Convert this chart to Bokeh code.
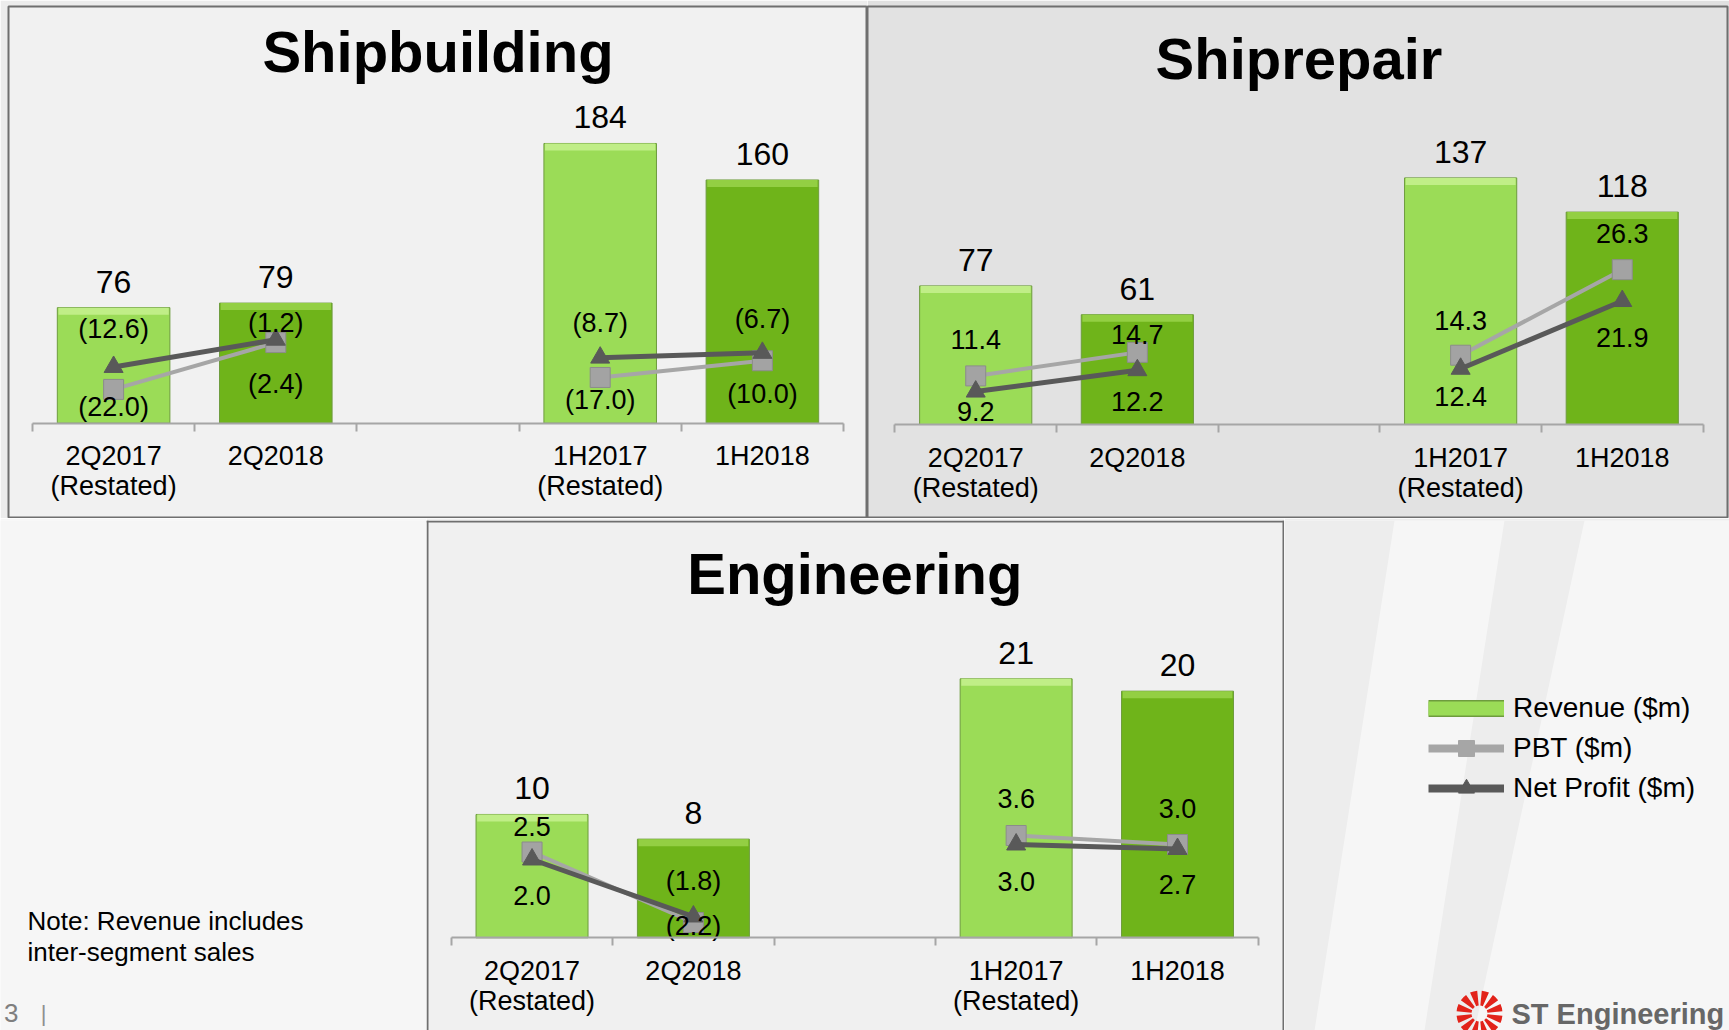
import math
from bokeh.plotting import figure
from bokeh.layouts import row, column
from bokeh.models import (Range1d, FixedTicker, ColumnDataSource, Label, Legend,
                          LegendItem, Span)
from bokeh.core.properties import value
from bokeh.embed import file_html
from bokeh.resources import INLINE

# ---------------- data ----------------
categories = ["2Q2017\n(Restated)", "2Q2018", "1H2017\n(Restated)", "1H2018"]
cat_pos = [0, 1, 3, 4]

sb_revenue = [76, 79, 184, 160]
sb_pbt = [-22.0, -2.4, -17.0, -10.0]
sb_np = [-12.6, -1.2, -8.7, -6.7]

sr_revenue = [77, 61, 137, 118]
sr_pbt = [11.4, 14.7, 14.3, 26.3]
sr_np = [9.2, 12.2, 12.4, 21.9]

en_revenue = [10, 8, 21, 20]
en_pbt = [2.5, -2.2, 3.6, 3.0]
en_np = [2.0, -1.8, 3.0, 2.7]

legend_labels = ["Revenue ($m)", "PBT ($m)", "Net Profit ($m)"]
note_lines = ["Note: Revenue includes", "inter-segment sales"]

# ---------------- styles ----------------
FONT = "Liberation Sans"
LIGHT, DARK = "#9bdc57", "#6fb41a"
LIGHT_BEV, DARK_BEV = "#c0ee87", "#93cf43"
BAR_LINE = "#6e9c3e"
PBT_C, NP_C = "#a6a6a6", "#595959"
AXIS_C = "#a6a6a6"
BORDER_C = "#6f6f6f"


def fmt(v):
    return f"({abs(v):.1f})" if v < 0 else f"{v:.1f}"


def panel(title, w, h, borders, bg, page_bg, x_rng, y_rng, sec_rng, rev, pbt, npf,
          pbt_dy, np_dy, title_y, outline=True):
    bl, bt, br = borders
    p = figure(width=w, height=h, x_range=Range1d(*x_rng), y_range=Range1d(*y_rng),
               output_backend="svg", toolbar_location=None,
               min_border_left=bl, min_border_top=bt, min_border_right=br,
               min_border_bottom=0,
               background_fill_color=bg, border_fill_color=page_bg,
               outline_line_color=BORDER_C if outline else None,
               outline_line_width=2, y_axis_location=None)
    p.extra_y_ranges = {"sec": Range1d(*sec_rng)}
    p.xgrid.visible = False
    p.ygrid.visible = False

    ax = p.xaxis[0]
    ax.fixed_location = 0
    ax.bounds = (-0.5, 4.5)
    ax.ticker = FixedTicker(ticks=cat_pos, minor_ticks=[-0.5, 0.5, 1.5, 2.5, 3.5, 4.5])
    ax.major_label_overrides = {k: v for k, v in zip(cat_pos, categories)}
    ax.axis_line_color = AXIS_C
    ax.axis_line_width = 2
    ax.major_tick_line_color = None
    ax.major_tick_out = 0
    ax.major_tick_in = 0
    ax.minor_tick_line_color = AXIS_C
    ax.minor_tick_line_width = 2
    ax.minor_tick_out = 8
    ax.minor_tick_in = 0
    ax.major_label_standoff = 10
    ax.major_label_text_font = FONT
    ax.major_label_text_font_size = "27px"
    ax.major_label_text_line_height = 1.0
    ax.major_label_text_color = "black"
    ax.major_label_text_align = "center"

    frame_h = h - bt
    yspan = y_rng[1] - y_rng[0]
    bev = 7 * yspan / frame_h
    src = ColumnDataSource(dict(
        x=cat_pos, rev=rev,
        color=[LIGHT, DARK, LIGHT, DARK],
        bevc=[LIGHT_BEV, DARK_BEV, LIGHT_BEV, DARK_BEV],
        bevb=[v - bev for v in rev],
        lab=[str(v) for v in rev]))
    p.vbar(x="x", top="rev", bottom=0, width=0.694, fill_color="color",
           line_color=BAR_LINE, line_width=1, source=src)
    p.vbar(x="x", top="rev", bottom="bevb", width=0.68, fill_color="bevc",
           line_color=None, source=src)
    p.text(x="x", y="rev", text="lab", source=src, text_font=value(FONT),
           text_font_size="32px", text_align="center", text_baseline="middle",
           y_offset=-26, text_color="black")

    # PBT and Net Profit lines (two separate pairs)
    p.multi_line(xs=[cat_pos[0:2], cat_pos[2:4]], ys=[pbt[0:2], pbt[2:4]],
                 y_range_name="sec", line_color=PBT_C, line_width=4)
    p.scatter(x=cat_pos, y=pbt, y_range_name="sec", marker="square", size=20,
              fill_color="#a3a3a3", line_color="#8c8c8c", line_width=1)
    p.multi_line(xs=[cat_pos[0:2], cat_pos[2:4]], ys=[npf[0:2], npf[2:4]],
                 y_range_name="sec", line_color=NP_C, line_width=5)
    p.scatter(x=cat_pos, y=npf, y_range_name="sec", marker="triangle", size=19,
              fill_color=NP_C, line_color=NP_C)

    ls = ColumnDataSource(dict(x=cat_pos, pbt=pbt, npf=npf,
                               pl=[fmt(v) for v in pbt], nl=[fmt(v) for v in npf],
                               pdy=pbt_dy, ndy=np_dy))
    for ycol, tcol, dcol in (("pbt", "pl", "pdy"), ("npf", "nl", "ndy")):
        p.text(x="x", y=ycol, text=tcol, y_offset=dcol, source=ls, y_range_name="sec",
               text_font=value(FONT), text_font_size="27px", text_align="center",
               text_baseline="middle", text_color="black")

    p.add_layout(Label(x=2, y=title_y, x_units="data", y_units="screen", text=title,
                       text_font=FONT, text_font_size="58px", text_font_style="bold",
                       text_align="center", text_baseline="alphabetic",
                       text_color="black"))
    return p


p_sb = panel("Shipbuilding", 867, 518, (8, 6, 0), "#f1f1f1", "#ececec",
             (-0.648, 4.648), (-62.7, 274.1), (-76.0, 138.2),
             sb_revenue, sb_pbt, sb_np,
             [18, 41, 23, 33], [-38, -17, -35, -34], 467)

p_sr = panel("Shiprepair", 862, 518, (0, 6, 2), "#e2e2e2", "#e0e0e0",
             (-0.6695, 4.651), (-52.2, 232.2), (-8.60, 63.21),
             sr_revenue, sr_pbt, sr_np,
             [-36, -18, -35, -36], [20, 31, 28, 36], 460)

en_x, en_y = (-0.654, 4.663), (-7.52, 33.84)
p_en = panel("Engineering", 858, 512, (0, 2, 0), "#f0f0f0", "#f0f0f0",
             en_x, en_y, (-9.4, 24.6),
             en_revenue, en_pbt, en_np,
             [-26, 3, -37, -36], [36, -36, 37, 35], 457, outline=False)
# box border of the Engineering panel (it runs off the bottom of the slide)
px_x = (en_x[1] - en_x[0]) / 858
px_y = (en_y[1] - en_y[0]) / 510
for loc, dim in ((en_x[0] + px_x, "height"), (en_x[1] - px_x, "height"),
                 (en_y[1] - px_y, "width")):
    p_en.add_layout(Span(location=loc, dimension=dim, line_color=BORDER_C,
                         line_width=2))


def blank(w, h, bg):
    b = figure(width=w, height=h, x_range=Range1d(0, w), y_range=Range1d(0, h),
               output_backend="svg", toolbar_location=None, min_border=0,
               x_axis_location=None, y_axis_location=None, outline_line_color=None,
               background_fill_color=bg, border_fill_color=bg)
    b.xgrid.visible = False
    b.ygrid.visible = False
    return b


# note area (bottom-left)
p_note = blank(426, 512, "#f6f6f6")
for i, t in enumerate(note_lines):
    p_note.add_layout(Label(x=27, y=110 - 31 * i, x_units="screen", y_units="screen",
                            text=t, text_font=FONT, text_font_size="26px",
                            text_baseline="alphabetic", text_color="black"))
p_note.add_layout(Label(x=18, y=18, x_units="screen", y_units="screen", text="3",
                        text_font=FONT, text_font_size="26px", text_align="right",
                        text_baseline="alphabetic", text_color="#7f7f7f"))
p_note.add_layout(Label(x=43, y=17, x_units="screen", y_units="screen", text="|",
                        text_font=FONT, text_font_size="22px", text_align="center",
                        text_baseline="alphabetic", text_color="#8f8f8f"))

# legend area (bottom-right)
p_leg = blank(445, 512, "#ededed")
p_leg.patches(xs=[[110, 220, 140, 30], [300, 445, 445, 190]],
              ys=[[512, 512, 0, 0], [512, 512, 0, 0]],
              fill_color="white", fill_alpha=0.5, line_color=None)
off = dict(x=[-1000, -999], y=[-1000, -999])
r_rev_o = p_leg.line(off["x"], off["y"], line_color=BAR_LINE, line_width=17)
r_rev = p_leg.line(off["x"], off["y"], line_color=LIGHT, line_width=14)
r_pbt_l = p_leg.line(off["x"], off["y"], line_color=PBT_C, line_width=8)
r_pbt_m = p_leg.scatter(off["x"], off["y"], marker="square", fill_color=PBT_C,
                        line_color=PBT_C)
r_np_l = p_leg.line(off["x"], off["y"], line_color=NP_C, line_width=8)
r_np_m = p_leg.scatter(off["x"], off["y"], marker="triangle", fill_color=NP_C,
                       line_color=NP_C)
leg = Legend(items=[LegendItem(label=legend_labels[0], renderers=[r_rev_o, r_rev]),
                    LegendItem(label=legend_labels[1], renderers=[r_pbt_l, r_pbt_m]),
                    LegendItem(label=legend_labels[2], renderers=[r_np_l, r_np_m])],
             location=(144, 222), orientation="vertical", glyph_width=76,
             glyph_height=40, label_height=40, label_standoff=9, spacing=0,
             padding=0, margin=0, border_line_color=None, background_fill_alpha=0,
             label_text_font=FONT, label_text_font_size="28px",
             label_text_color="black")
p_leg.add_layout(leg)

# ST Engineering logo (decorative)
n = 12
starts = [2 * math.pi * i / n + 0.1 for i in range(n)]
ends = [s + 2 * math.pi / n - 0.2 for s in starts]
p_leg.annular_wedge(x=195, y=17, inner_radius=8, outer_radius=23,
                    inner_radius_units="screen", outer_radius_units="screen",
                    start_angle=starts, end_angle=ends, fill_color="#e2231a",
                    line_color=None)
p_leg.add_layout(Label(x=227, y=17, x_units="screen", y_units="screen",
                       text="ST Engineering", text_font=FONT,
                       text_font_size="29px", text_font_style="bold",
                       text_baseline="alphabetic", text_color="#676767"))

layout = column(row(p_sb, p_sr, spacing=0), row(p_note, p_en, p_leg, spacing=0),
                spacing=0)

open("out.html", "w").write(file_html(layout, INLINE))
